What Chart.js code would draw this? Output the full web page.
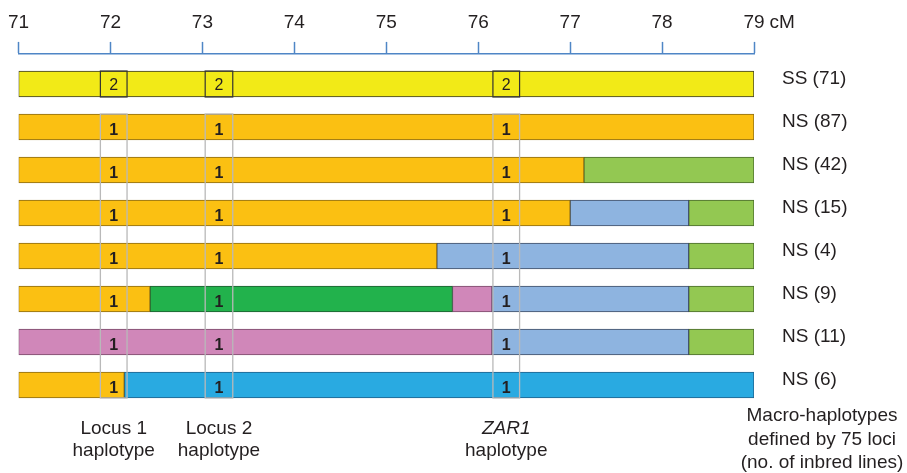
<!DOCTYPE html>
<html>
<head>
<meta charset="utf-8">
<script src="https://cdn.jsdelivr.net/npm/chart.js@4.4.1/dist/chart.umd.min.js"></script>
<style>
  html, body { margin: 0; padding: 0; background: #fff; }
  #wrap { width: 907px; height: 473px; position: relative; }
</style>
</head>
<body>
<div id="wrap"><canvas id="haploChart"></canvas></div>
<script>
// Macro-haplotype rows (top to bottom)
const rowLabels = ['SS (71)', 'NS (87)', 'NS (42)', 'NS (15)', 'NS (4)', 'NS (9)', 'NS (11)', 'NS (6)'];
const cmTicks = [71, 72, 73, 74, 75, 76, 77, 78, 79];

// Segment extents in cM for each row, null where the colour is absent
const yellowSeg     = [[71, 79], null, null, null, null, null, null, null];
const orangeSeg     = [null, [71, 79], [71, 77.15], [71, 77.0], [71, 75.55], [71, 72.43], null, [71, 72.15]];
const lightBlueSeg  = [null, null, null, [77.0, 78.29], [75.55, 78.29], [76.15, 78.29], [76.15, 78.29], null];
const lightGreenSeg = [null, null, [77.15, 79], [78.29, 79], [78.29, 79], [78.29, 79], [78.29, 79], null];
const darkGreenSeg  = [null, null, null, null, null, [72.43, 75.72], null, null];
const pinkSeg       = [null, null, null, null, null, [75.72, 76.15], [71, 76.15], null];
const cyanSeg       = [null, null, null, null, null, null, null, [72.15, 79]];

// Single-locus haplotypes
const lociSpans = [[71.89, 72.18], [73.03, 73.33], [76.16, 76.45]];
const lociNames = ['Locus 1', 'Locus 2', 'ZAR1'];
const lociHaplo = [
  ['2', '2', '2'],
  ['1', '1', '1'],
  ['1', '1', '1'],
  ['1', '1', '1'],
  ['1', '1', '1'],
  ['1', '1', '1'],
  ['1', '1', '1'],
  ['1', '1', '1']
];

const FONT = "Arial, 'Liberation Sans', sans-serif";
const INK = '#231F20';
const AXIS_BLUE = '#4F86C6';
const BAR_H = 26;

function toPoints(segs) {
  return segs.map((s, i) => s ? { x: s, y: i } : null).filter(Boolean);
}

function segDataset(segs, fill, edge) {
  return {
    data: toPoints(segs),
    backgroundColor: fill,
    borderColor: edge,
    borderWidth: 1,
    borderSkipped: false,
    grouped: false,
    barThickness: BAR_H
  };
}

// Locus boxes, their haplotype numbers and the captions underneath
const lociPlugin = {
  id: 'lociPlugin',
  afterDatasetsDraw(chart) {
    const ctx = chart.ctx;
    const xs = chart.scales.x;
    const ys = chart.scales.y;
    ctx.save();
    lociSpans.forEach((span, k) => {
      const x0 = xs.getPixelForValue(span[0]);
      const x1 = xs.getPixelForValue(span[1]);
      const cx = (x0 + x1) / 2;

      // SS row: dark outlined box
      const y0 = ys.getPixelForValue(0);
      ctx.strokeStyle = '#333';
      ctx.lineWidth = 1.2;
      ctx.strokeRect(x0, y0 - BAR_H / 2, x1 - x0, BAR_H);
      ctx.fillStyle = INK;
      ctx.font = '16px ' + FONT;
      ctx.textAlign = 'center';
      ctx.textBaseline = 'middle';
      ctx.fillText(lociHaplo[0][k], cx, y0 + 2);

      // NS rows: one grey column through all of them
      const top = ys.getPixelForValue(1) - BAR_H / 2;
      const bottom = ys.getPixelForValue(rowLabels.length - 1) + BAR_H / 2;
      ctx.strokeStyle = '#B9B9B9';
      ctx.lineWidth = 1.3;
      ctx.strokeRect(x0, top, x1 - x0, bottom - top);
      ctx.font = 'bold 16px ' + FONT;
      for (let r = 1; r < rowLabels.length; r++) {
        ctx.fillText(lociHaplo[r][k], cx, ys.getPixelForValue(r) + 4);
      }

      // caption under the column
      const capY = bottom + 30.5;
      ctx.font = (k === 2 ? 'italic ' : '') + '19px ' + FONT;
      ctx.fillText(lociNames[k], cx, capY);
      ctx.font = '19px ' + FONT;
      ctx.fillText('haplotype', cx, capY + 22.5);
    });

    // caption for the row labels
    const mx = chart.chartArea.right + 68;
    ctx.font = '19px ' + FONT;
    ['Macro-haplotypes', 'defined by 75 loci', '(no. of inbred lines)'].forEach((t, i) => {
      ctx.fillText(t, mx, 416 + i * 23.5);
    });

    // unit after the last tick
    ctx.textAlign = 'left';
    ctx.fillText('cM', xs.getPixelForValue(79) + 15.5, 22.5);
    ctx.restore();
  }
};

new Chart(document.getElementById('haploChart'), {
  type: 'bar',
  data: {
    datasets: [
      segDataset(yellowSeg, '#F2EA17', '#3A3A2A'),
      segDataset(orangeSeg, '#FBC012', '#8A6A14'),
      segDataset(lightBlueSeg, '#8EB4E0', '#3F4E66'),
      segDataset(lightGreenSeg, '#93C852', '#4A6A2C'),
      segDataset(darkGreenSeg, '#22B24C', '#1F5A30'),
      segDataset(pinkSeg, '#D087B9', '#7A4A6A'),
      segDataset(cyanSeg, '#29AAE1', '#1F5F8A')
    ]
  },
  options: {
    indexAxis: 'y',
    responsive: true,
    maintainAspectRatio: false,
    animation: false,
    layout: { padding: { left: 18.5, right: 0, top: 3.1, bottom: 62.2 } },
    plugins: {
      legend: { display: false },
      tooltip: { enabled: false }
    },
    scales: {
      x: {
        type: 'linear',
        position: 'top',
        min: 71,
        max: 79,
        afterBuildTicks(scale) {
          scale.ticks = cmTicks.map(v => ({ value: v }));
        },
        ticks: {
          color: INK,
          font: { family: FONT, size: 19 },
          padding: 8,
          maxRotation: 0
        },
        grid: {
          drawOnChartArea: false,
          drawTicks: true,
          tickLength: 12,
          tickWidth: 1.5,
          color: AXIS_BLUE
        },
        border: { display: true, color: AXIS_BLUE, width: 1.5 }
      },
      y: {
        type: 'linear',
        position: 'right',
        reverse: true,
        offset: false,
        min: -0.7,
        max: 7.6,
        afterBuildTicks(scale) {
          scale.ticks = rowLabels.map((_, i) => ({ value: i }));
        },
        afterFit(scale) {
          scale.width = 153;
        },
        ticks: {
          color: INK,
          font: { family: FONT, size: 19 },
          padding: 28,
          labelOffset: -5.5,
          callback: v => rowLabels[v]
        },
        grid: { display: false, drawTicks: false, offset: false },
        border: { display: false }
      }
    }
  },
  plugins: [lociPlugin]
});
</script>
</body>
</html>
